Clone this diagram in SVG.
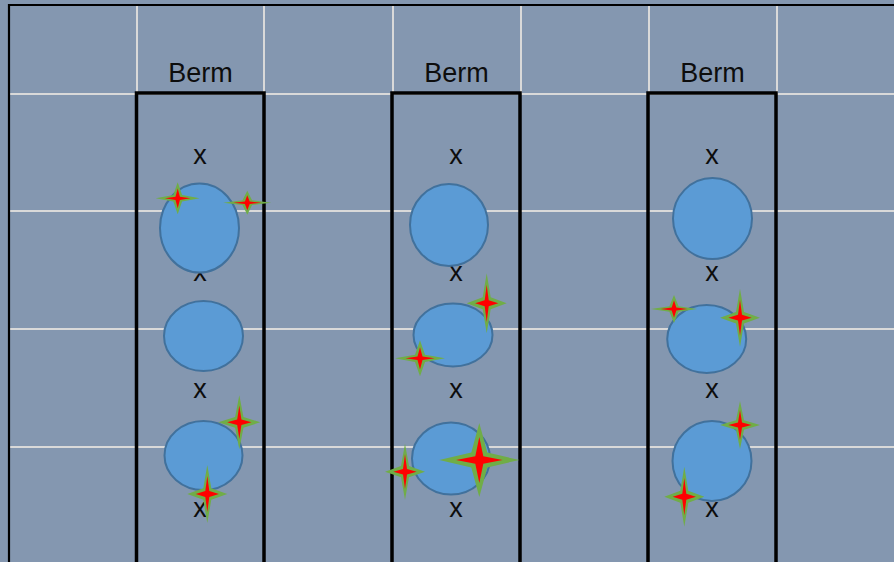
<svg xmlns="http://www.w3.org/2000/svg" xmlns:xlink="http://www.w3.org/1999/xlink" width="894" height="562" viewBox="0 0 894 562">
<style>
.grid{stroke:#D9D9D9;stroke-width:2;fill:none}
.border{stroke:#000;stroke-width:2.2;fill:none}
.berm{stroke:#000;stroke-width:3.5;fill:none}
.lbl{font-family:"Liberation Sans",Arial,sans-serif;font-size:27px;fill:#0D0D0D;text-anchor:middle}
.ell{fill:#5B9BD5;stroke:#41719C;stroke-width:2}
</style>
<defs>
<g id="star">
<path fill="#70AD47" d="M0,-1 L0.2,-0.2 L1,0 L0.2,0.2 L0,1 L-0.2,0.2 L-1,0 L-0.2,-0.2Z"/>
<path fill="#FF0000" d="M0,-0.62 L0.1,-0.1 L0.58,0 L0.1,0.1 L0,0.62 L-0.1,0.1 L-0.58,0 L-0.1,-0.1Z"/>
</g>
</defs>
<rect x="0" y="0" width="894" height="562" fill="#8497B0"/>
<g id="grid">
<line class="grid" x1="9" y1="94" x2="894" y2="94"/>
<line class="grid" x1="9" y1="211" x2="894" y2="211"/>
<line class="grid" x1="9" y1="329" x2="894" y2="329"/>
<line class="grid" x1="9" y1="447" x2="894" y2="447"/>
<line class="grid" x1="137" y1="5" x2="137" y2="94"/>
<line class="grid" x1="264" y1="5" x2="264" y2="94"/>
<line class="grid" x1="393" y1="5" x2="393" y2="94"/>
<line class="grid" x1="521" y1="5" x2="521" y2="94"/>
<line class="grid" x1="649" y1="5" x2="649" y2="94"/>
<line class="grid" x1="777" y1="5" x2="777" y2="94"/>
<path class="border" d="M9,570 L9,5 L894,5"/>
</g>
<g id="berm1">
<rect class="berm" x="136.5" y="93" width="127.5" height="480"/>
<text class="lbl" x="200.5" y="82">Berm</text>
<text class="lbl" x="200" y="164">x</text>
<text class="lbl" x="200" y="281">x</text>
<text class="lbl" x="200" y="398">x</text>
<text class="lbl" x="200" y="517">x</text>
<ellipse class="ell" cx="199.5" cy="228" rx="39.5" ry="44.5"/>
<ellipse class="ell" cx="203.5" cy="336" rx="39.5" ry="35"/>
<ellipse class="ell" cx="203.5" cy="455.5" rx="39" ry="34.5"/>
<use xlink:href="#star" transform="translate(177.7,198.3) scale(22,16)"/>
<use xlink:href="#star" transform="translate(247.3,202.7) scale(24,12)"/>
<use xlink:href="#star" transform="translate(239.3,422.3) scale(21,27)"/>
<use xlink:href="#star" transform="translate(207.3,494) scale(20,29)"/>
</g>
<g id="berm2">
<rect class="berm" x="392" y="93" width="128" height="480"/>
<text class="lbl" x="456.5" y="82">Berm</text>
<text class="lbl" x="456" y="164">x</text>
<text class="lbl" x="456" y="281">x</text>
<text class="lbl" x="456" y="398">x</text>
<text class="lbl" x="456" y="517">x</text>
<ellipse class="ell" cx="449" cy="225" rx="39" ry="41"/>
<ellipse class="ell" cx="453" cy="335" rx="39.5" ry="31.5"/>
<ellipse class="ell" cx="451" cy="458.5" rx="39" ry="36"/>
<use xlink:href="#star" transform="translate(486.7,303.3) scale(20,30)"/>
<use xlink:href="#star" transform="translate(420,358.3) scale(25,18)"/>
<use xlink:href="#star" transform="translate(405,471.7) scale(20,28)"/>
<use xlink:href="#star" transform="translate(479.3,460) scale(40,37)"/>
</g>
<g id="berm3">
<rect class="berm" x="648" y="93" width="128" height="480"/>
<text class="lbl" x="712.5" y="82">Berm</text>
<text class="lbl" x="712" y="164">x</text>
<text class="lbl" x="712" y="281">x</text>
<text class="lbl" x="712" y="398">x</text>
<text class="lbl" x="712" y="517">x</text>
<ellipse class="ell" cx="712.5" cy="218.5" rx="39.5" ry="40.5"/>
<ellipse class="ell" cx="706.7" cy="339" rx="39.5" ry="34"/>
<ellipse class="ell" cx="712" cy="461" rx="39.5" ry="40"/>
<use xlink:href="#star" transform="translate(674,309) scale(23,14)"/>
<use xlink:href="#star" transform="translate(740,317.7) scale(20,29)"/>
<use xlink:href="#star" transform="translate(740,425) scale(20,24)"/>
<use xlink:href="#star" transform="translate(684.3,496.7) scale(20,30)"/>
</g>
</svg>
